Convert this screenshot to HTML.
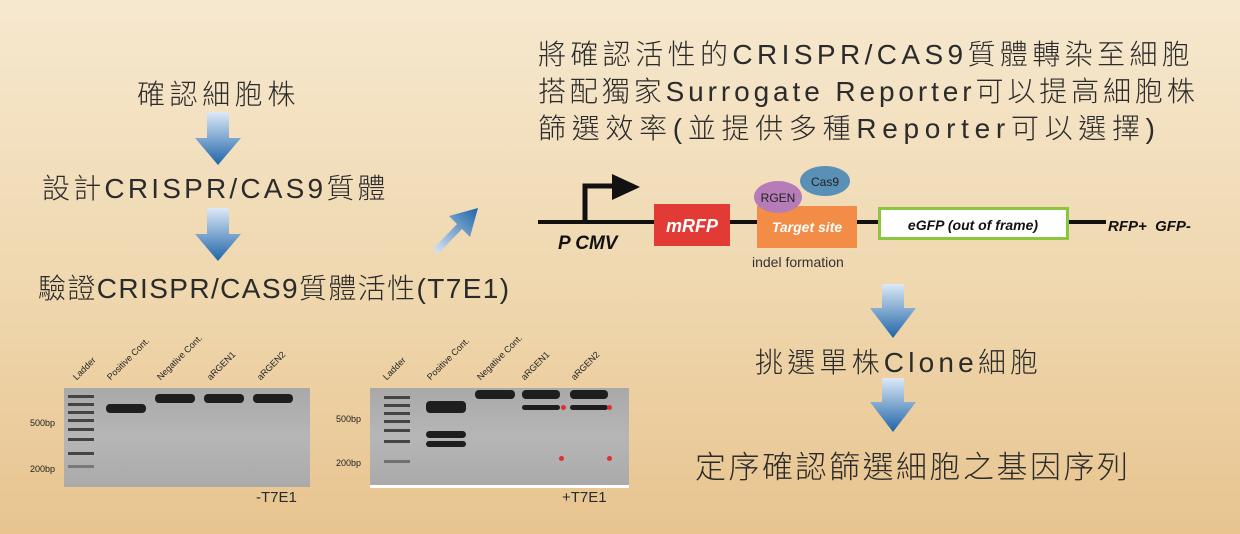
<!DOCTYPE html>
<html><head><meta charset="utf-8"><style>
body{margin:0;width:1240px;height:534px;overflow:hidden;background:linear-gradient(#f6e8cf,#efd7ae 55%,#e8c48f);font-family:"Liberation Sans","Noto Sans CJK TC",sans-serif;position:relative}
.t{position:absolute;white-space:nowrap;color:#2b2b2b;font-family:"Liberation Sans","Noto Sans CJK TC",sans-serif;font-weight:300;letter-spacing:1px}
.b{position:absolute}
.lab{position:absolute;font-size:9px;color:#222;transform:rotate(-45deg);transform-origin:left bottom;white-space:nowrap}
.gel{position:absolute;background:linear-gradient(#a9a9a9,#b6b6b6 50%,#aaa)}
.band{position:absolute;background:#1e1e1e;border-radius:4px;height:9px}
.lad{position:absolute;background:#444;height:3px;width:26px}
.sm{position:absolute;font-size:9px;color:#222}
.dot{position:absolute;width:5px;height:5px;border-radius:50%;background:#e03030}
</style></head><body>
<div class="t" style="left:137px;top:73px;font-size:28px;letter-spacing:4.6px">確認細胞株</div>
<div class="t" style="left:42px;top:167px;font-size:28px;letter-spacing:3.2px">設計CRISPR/CAS9質體</div>
<div class="t" style="left:38px;top:267px;font-size:28px;letter-spacing:1.4px">驗證CRISPR/CAS9質體活性(T7E1)</div>
<div class="t" style="left:538px;top:33px;font-size:28px;letter-spacing:4.4px">將確認活性的CRISPR/CAS9質體轉染至細胞</div>
<div class="t" style="left:538px;top:70px;font-size:28px;letter-spacing:3.9px">搭配獨家Surrogate Reporter可以提高細胞株</div>
<div class="t" style="left:538px;top:107px;font-size:28px;letter-spacing:5.7px">篩選效率(並提供多種Reporter可以選擇)</div>
<div class="t" style="left:755px;top:341px;font-size:28px;letter-spacing:4.2px">挑選單株Clone細胞</div>
<div class="t" style="left:695px;top:442px;font-size:31px;letter-spacing:2.5px">定序確認篩選細胞之基因序列</div>

<svg class="b" style="left:0;top:0" width="1240" height="534">
<defs><linearGradient id="g" x1="0" y1="0" x2="0" y2="1"><stop offset="0" stop-color="#dce9f6"/><stop offset="1" stop-color="#1f64a8"/></linearGradient>
<linearGradient id="g2" x1="0" y1="1" x2="1" y2="0"><stop offset="0" stop-color="#dce9f6"/><stop offset="1" stop-color="#1f64a8"/></linearGradient></defs>
<g fill="url(#g)">
<path d="M207 112h22v26h12l-23 27-23-27h12z"/>
<path d="M207 208h22v26h12l-23 27-23-27h12z"/>
<path d="M882 284h22v24h12l-23 30-23-30h12z"/>
<path d="M882 378h22v24h12l-23 30-23-30h12z"/>
</g>
<path fill="url(#g2)" d="M433 249l24-25-8-8 29-8-8 29-8-8-24 25z"/>
<line x1="538" y1="222" x2="1106" y2="222" stroke="#111" stroke-width="4"/>
<path d="M585 222V186h30" fill="none" stroke="#111" stroke-width="5"/>
<path d="M612 174l28 13-28 13z" fill="#111"/>
<rect x="654" y="204" width="76" height="42" fill="#e23a35"/>
<rect x="757" y="206" width="100" height="42" fill="#f28c46"/>
<rect x="879.5" y="208.5" width="188" height="30" fill="#fff" stroke="#8cc63f" stroke-width="3"/>
<ellipse cx="825" cy="181" rx="25" ry="15" fill="#5a8fb6"/>
<ellipse cx="778" cy="197" rx="24" ry="16" fill="#b57cb8"/>
<g font-family="Liberation Sans,sans-serif">
<text x="825" y="186" font-size="12" text-anchor="middle" fill="#222">Cas9</text>
<text x="778" y="202" font-size="12" text-anchor="middle" fill="#222">RGEN</text>
<text x="692" y="232" font-size="18" font-weight="bold" font-style="italic" text-anchor="middle" fill="#fff">mRFP</text>
<text x="807" y="232" font-size="14" font-weight="bold" font-style="italic" text-anchor="middle" fill="#fff">Target site</text>
<text x="973" y="230" font-size="14" font-weight="bold" font-style="italic" text-anchor="middle" fill="#111">eGFP (out of frame)</text>
<text x="1108" y="231" font-size="15" font-weight="bold" font-style="italic" fill="#111" xml:space="preserve">RFP+  GFP-</text>
<text x="558" y="249" font-size="19" font-weight="bold" font-style="italic" fill="#111">P CMV</text>
<text x="752" y="267" font-size="14" fill="#333">indel formation</text>
</g>
</svg>

<!-- left gel -->
<div class="gel" style="left:64px;top:388px;width:246px;height:99px"></div>
<div class="lab" style="left:78px;top:372px">Ladder</div>
<div class="lab" style="left:112px;top:372px">Positive Cont.</div>
<div class="lab" style="left:162px;top:372px">Negative Cont.</div>
<div class="lab" style="left:212px;top:372px">aRGEN1</div>
<div class="lab" style="left:262px;top:372px">aRGEN2</div>
<div class="lad" style="left:68px;top:395px"></div><div class="lad" style="left:68px;top:403px"></div><div class="lad" style="left:68px;top:411px"></div><div class="lad" style="left:68px;top:419px"></div><div class="lad" style="left:68px;top:428px"></div><div class="lad" style="left:68px;top:438px"></div><div class="lad" style="left:68px;top:452px"></div><div class="lad" style="left:68px;top:465px;opacity:.5"></div>
<div class="band" style="left:106px;top:404px;width:40px"></div>
<div class="band" style="left:155px;top:394px;width:40px"></div>
<div class="band" style="left:204px;top:394px;width:40px"></div>
<div class="band" style="left:253px;top:394px;width:40px"></div>
<div class="sm" style="left:30px;top:418px">500bp</div>
<div class="sm" style="left:30px;top:464px">200bp</div>
<div class="t" style="left:256px;top:489px;font-size:15px;letter-spacing:0">-T7E1</div>
<!-- right gel -->
<div class="gel" style="left:370px;top:388px;width:259px;height:97px;border-bottom:3px solid #fff"></div>
<div class="lab" style="left:388px;top:372px">Ladder</div>
<div class="lab" style="left:432px;top:372px">Positive Cont.</div>
<div class="lab" style="left:482px;top:372px">Negative Cont.</div>
<div class="lab" style="left:526px;top:372px">aRGEN1</div>
<div class="lab" style="left:576px;top:372px">aRGEN2</div>
<div class="lad" style="left:384px;top:396px"></div><div class="lad" style="left:384px;top:404px"></div><div class="lad" style="left:384px;top:412px"></div><div class="lad" style="left:384px;top:420px"></div><div class="lad" style="left:384px;top:429px"></div><div class="lad" style="left:384px;top:440px"></div><div class="lad" style="left:384px;top:460px;opacity:.6"></div>
<div class="band" style="left:426px;top:401px;width:40px;height:12px"></div>
<div class="band" style="left:426px;top:431px;width:40px;height:7px"></div>
<div class="band" style="left:426px;top:441px;width:40px;height:6px"></div>
<div class="band" style="left:475px;top:390px;width:40px"></div>
<div class="band" style="left:522px;top:390px;width:38px"></div>
<div class="band" style="left:522px;top:405px;width:38px;height:5px"></div>
<div class="band" style="left:570px;top:390px;width:38px"></div>
<div class="band" style="left:570px;top:405px;width:38px;height:5px"></div>
<div class="dot" style="left:561px;top:405px"></div><div class="dot" style="left:607px;top:405px"></div>
<div class="dot" style="left:559px;top:456px"></div><div class="dot" style="left:607px;top:456px"></div>
<div class="sm" style="left:336px;top:414px">500bp</div>
<div class="sm" style="left:336px;top:458px">200bp</div>
<div class="t" style="left:562px;top:489px;font-size:15px;letter-spacing:0">+T7E1</div>
</body></html>
